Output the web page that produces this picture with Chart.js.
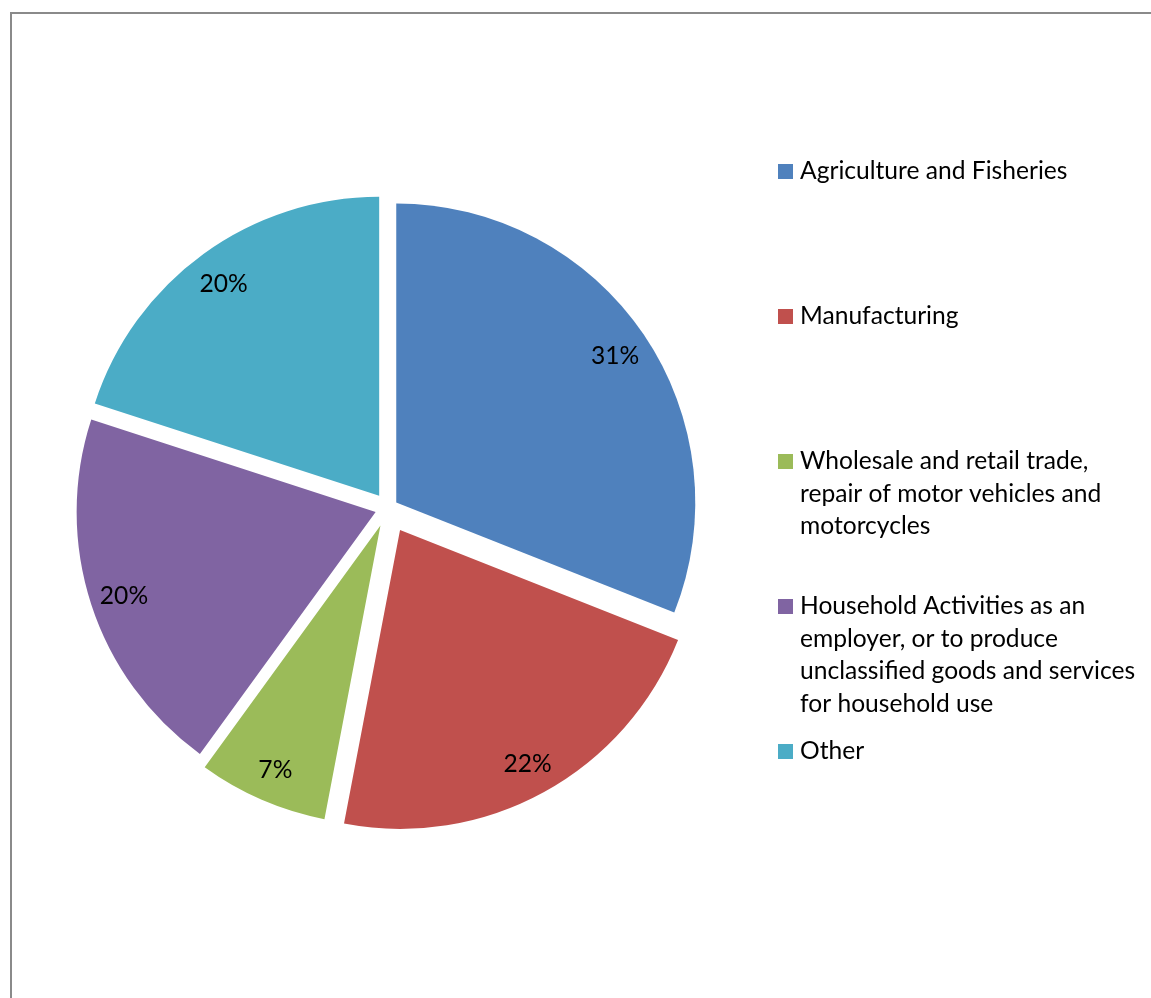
<!DOCTYPE html>
<html>
<head>
<meta charset="utf-8">
<script src="https://cdn.jsdelivr.net/npm/chart.js@4.4.0/dist/chart.umd.min.js"></script>
<style>
  html, body { margin: 0; padding: 0; background: #fff; }
  #frame {
    position: absolute; left: 10px; top: 12px; width: 1141px; height: 986px;
    border-top: 2px solid #8a8a8a; border-left: 2px solid #8a8a8a;
  }
  #chart { position: absolute; left: 0; top: 0; }
</style>
</head>
<body>
<div id="frame"></div>
<canvas id="chart" width="1151" height="998"></canvas>
<script>
const categories = [
  'Agriculture and Fisheries',
  'Manufacturing',
  'Wholesale and retail trade, repair of motor vehicles and motorcycles',
  'Household Activities as an employer, or to produce unclassified goods and services for household use',
  'Other',
];
const shares = [31, 22, 7, 20, 20];
const sliceColors = ['#4f81bd', '#c0504d', '#9bbb59', '#8064a2', '#4bacc6'];
// how far each slice is pulled out of the pie, px
const explode = [10, 25, 19, 13, 15];

const FONT = 'Lato, "Liberation Sans", sans-serif';

// pull slices out without Chart.js growing the small ones
const explodePlugin = {
  id: 'explode',
  afterDatasetsUpdate(chart) {
    chart.getDatasetMeta(0).data.forEach((arc, i) => {
      const mid = (arc.startAngle + arc.endAngle) / 2;
      arc.x += Math.cos(mid) * explode[i];
      arc.y += Math.sin(mid) * explode[i];
    });
  },
};

const pctLabels = {
  id: 'pctLabels',
  afterDatasetsDraw(chart) {
    const { ctx } = chart;
    const values = chart.data.datasets[0].data;
    const total = values.reduce((a, b) => a + b, 0);
    ctx.save();
    ctx.font = `24.6px ${FONT}`;
    ctx.fillStyle = '#000';
    ctx.textAlign = 'center';
    ctx.textBaseline = 'middle';
    chart.getDatasetMeta(0).data.forEach((arc, i) => {
      const mid = (arc.startAngle + arc.endAngle) / 2;
      const r = arc.outerRadius * 0.885;
      const text = Math.round((values[i] / total) * 100) + '%';
      ctx.fillText(text, arc.x + Math.cos(mid) * r, arc.y + Math.sin(mid) * r + 2);
    });
    ctx.restore();
  },
};

function wrapText(ctx, text, maxWidth) {
  const words = text.split(' ');
  const lines = [];
  let line = '';
  words.forEach((word) => {
    const test = line ? line + ' ' + word : word;
    if (line && ctx.measureText(test).width > maxWidth) {
      lines.push(line);
      line = word;
    } else {
      line = test;
    }
  });
  if (line) lines.push(line);
  return lines;
}

const sideLegend = {
  id: 'sideLegend',
  afterDraw(chart) {
    const { ctx } = chart;
    const colors = chart.data.datasets[0].backgroundColor;
    ctx.save();
    ctx.font = `24.6px ${FONT}`;
    ctx.textAlign = 'left';
    ctx.textBaseline = 'alphabetic';
    chart.data.labels.forEach((label, i) => {
      const baseline = 179 + 145 * i;
      ctx.fillStyle = colors[i];
      ctx.fillRect(778, baseline - 15, 15, 15);
      ctx.fillStyle = '#000';
      wrapText(ctx, label, 345).forEach((line, j) => {
        ctx.fillText(line, 800, baseline + j * 32.5);
      });
    });
    ctx.restore();
  },
};

new Chart(document.getElementById('chart'), {
  type: 'pie',
  data: {
    labels: categories,
    datasets: [
      {
        data: shares,
        backgroundColor: sliceColors,
        borderWidth: 0,
      },
    ],
  },
  options: {
    responsive: false,
    animation: false,
    events: [],
    layout: {
      padding: { left: 89, top: 209, right: 464, bottom: 191 },
    },
    plugins: {
      legend: { display: false },
      tooltip: { enabled: false },
    },
  },
  plugins: [explodePlugin, pctLabels, sideLegend],
});
</script>
</body>
</html>
